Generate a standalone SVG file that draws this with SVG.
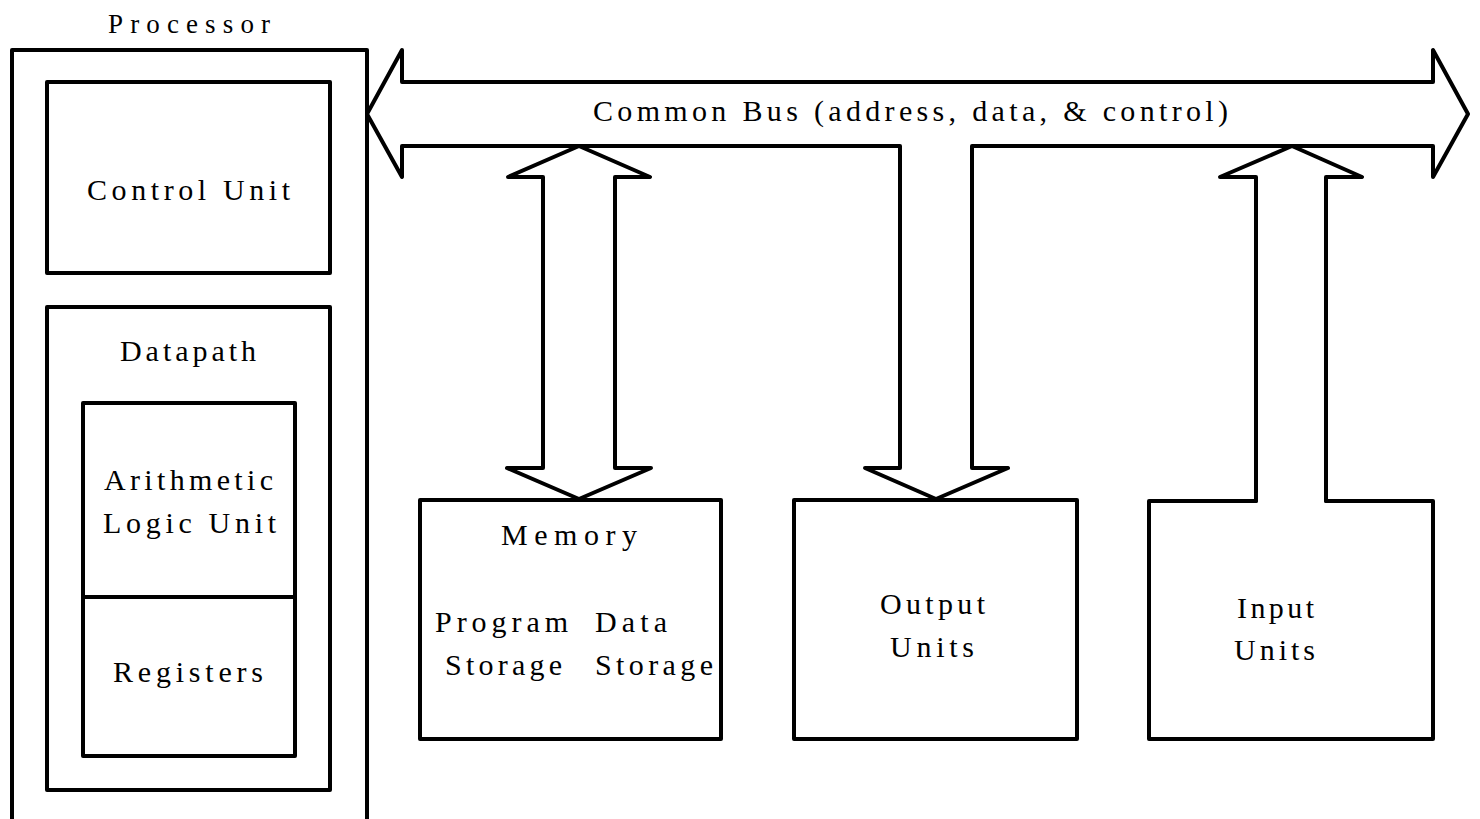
<svg xmlns="http://www.w3.org/2000/svg" width="1480" height="819" viewBox="0 0 1480 819">
<style>
.s{fill:none;stroke:#000;stroke-width:4;stroke-linejoin:round;stroke-linecap:round}
.t{font-family:'Liberation Serif','Times New Roman',serif;font-size:30px;fill:#000}
.p{font-size:27px}
</style>
<rect width="1480" height="819" fill="#fff"/>
<g id="processor">
<path class="s" d="M12,830 L12,50 L367,50 L367,830"/>
<text class="t p" x="108" y="33" textLength="162" lengthAdjust="spacing">Processor</text>
</g>
<g id="control-unit">
<rect class="s" x="47" y="82" width="283" height="191"/>
<text class="t" x="87" y="200" textLength="203" lengthAdjust="spacing">Control Unit</text>
</g>
<g id="datapath">
<rect class="s" x="47" y="307" width="283" height="483"/>
<text class="t" x="120" y="361" textLength="136" lengthAdjust="spacing">Datapath</text>
</g>
<g id="alu">
<rect class="s" x="83" y="403" width="212" height="194"/>
<text class="t" x="104" y="490" textLength="169" lengthAdjust="spacing">Arithmetic</text>
<text class="t" x="103" y="533" textLength="173" lengthAdjust="spacing">Logic Unit</text>
</g>
<g id="registers">
<rect class="s" x="83" y="597" width="212" height="159"/>
<text class="t" x="113" y="682" textLength="150" lengthAdjust="spacing">Registers</text>
</g>
<g id="memory">
<rect class="s" x="420" y="500" width="301" height="239"/>
<text class="t" x="501" y="545" textLength="136" lengthAdjust="spacing">Memory</text>
<text class="t" x="435" y="632" textLength="133" lengthAdjust="spacing">Program</text>
<text class="t" x="595" y="632" textLength="72" lengthAdjust="spacing">Data</text>
<text class="t" x="445" y="675" textLength="117" lengthAdjust="spacing">Storage</text>
<text class="t" x="595" y="675" textLength="118" lengthAdjust="spacing">Storage</text>
</g>
<g id="output-units">
<rect class="s" x="794" y="500" width="283" height="239"/>
<text class="t" x="880" y="614" textLength="105" lengthAdjust="spacing">Output</text>
<text class="t" x="890" y="657" textLength="84" lengthAdjust="spacing">Units</text>
</g>
<g id="input-units">
<path class="s" d="M1256,501 L1149,501 L1149,739 L1433,739 L1433,501 L1326,501"/>
<text class="t" x="1237" y="618" textLength="77" lengthAdjust="spacing">Input</text>
<text class="t" x="1234" y="660" textLength="81" lengthAdjust="spacing">Units</text>
</g>
<g id="connectors">
<path class="s" d="M972,146 L1433,146 L1433,177 L1468,114 L1433,50 L1433,82 L402,82 L402,50 L367,114 L402,177 L402,146 L900,146 L900,468 L865,468 L936,499 L1008,468 L972,468 Z"/>
<path class="s" d="M579,146 L650,177 L615,177 L615,468 L651,468 L579,499 L507,468 L543,468 L543,177 L508,177 Z"/>
<path class="s" d="M1256,501 L1256,177 L1220,177 L1292,146 L1362,177 L1326,177 L1326,501"/>
<text class="t" x="593" y="121" textLength="635" lengthAdjust="spacing">Common Bus (address, data, &amp; control)</text>
</g>
</svg>
